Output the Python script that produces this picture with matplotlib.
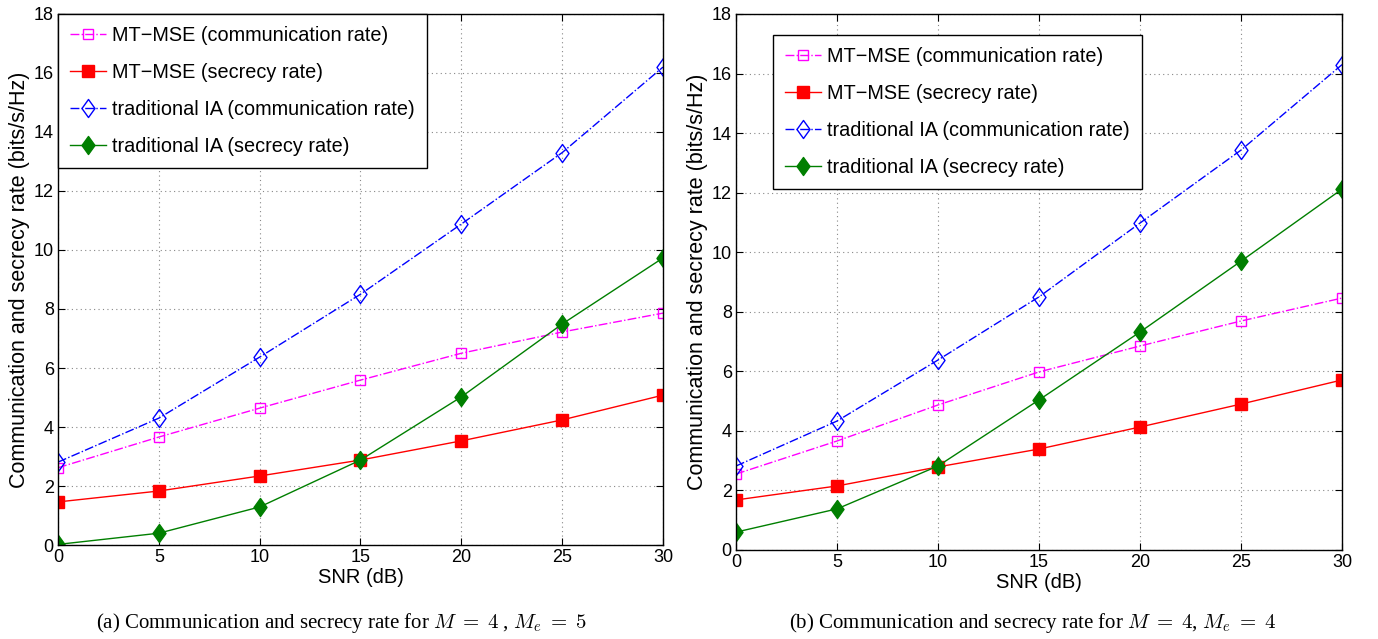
import matplotlib
matplotlib.use("Agg")
import matplotlib.pyplot as plt
from matplotlib.path import Path

snr = [0, 5, 10, 15, 20, 25, 30]

# Panel (a): M=4, Me=5
a_mtmse_comm = [2.62, 3.66, 4.64, 5.59, 6.50, 7.22, 7.86]
a_mtmse_sec = [1.46, 1.83, 2.34, 2.88, 3.53, 4.24, 5.08]
a_ia_comm = [2.81, 4.30, 6.37, 8.50, 10.88, 13.30, 16.20]
a_ia_sec = [0.02, 0.40, 1.29, 2.88, 5.02, 7.49, 9.73]

# Panel (b): M=4, Me=4
b_mtmse_comm = [2.55, 3.66, 4.87, 5.98, 6.85, 7.69, 8.46]
b_mtmse_sec = [1.68, 2.15, 2.79, 3.39, 4.13, 4.90, 5.71]
b_ia_comm = [2.82, 4.33, 6.38, 8.50, 10.98, 13.43, 16.30]
b_ia_sec = [0.60, 1.38, 2.82, 5.04, 7.32, 9.70, 12.12]

labels = ["MT\u2212MSE (communication rate)", "MT\u2212MSE (secrecy rate)",
          "traditional IA (communication rate)", "traditional IA (secrecy rate)"]
xticks = [0, 5, 10, 15, 20, 25, 30]
yticks = [0, 2, 4, 6, 8, 10, 12, 14, 16, 18]
captions = [r"(a) Communication and secrecy rate for $M\;=\;4$ , $M_e\;=\;5$",
            r"(b) Communication and secrecy rate for $M\;=\;4$, $M_e\;=\;4$"]

plt.rcParams['font.family'] = ['Liberation Sans', 'DejaVu Sans']
plt.rcParams['mathtext.fontset'] = 'cm'

diamond = Path([(0, 1), (0.72, 0), (0, -1), (-0.72, 0), (0, 1)],
               [Path.MOVETO, Path.LINETO, Path.LINETO, Path.LINETO, Path.CLOSEPOLY])

fig = plt.figure(figsize=(13.78, 6.39), dpi=100)
axes = [fig.add_axes([0.0421, 0.1471, 0.4390, 0.8310]),
        fig.add_axes([0.5341, 0.1393, 0.4398, 0.8388])]
data = [(a_mtmse_comm, a_mtmse_sec, a_ia_comm, a_ia_sec),
        (b_mtmse_comm, b_mtmse_sec, b_ia_comm, b_ia_sec)]
legend_anchor = [(0.0, 1.0), (0.061, 0.961)]
cap_x = [0.2475, 0.749]

for ax, d, anc, cx, cap in zip(axes, data, legend_anchor, cap_x, captions):
    mc, ms, ic, isec = d
    ax.plot(snr, mc, color='#ff00ff', linestyle='-.', lw=1.0, marker='s', ms=7.5,
            mfc='none', mec='#ff00ff', mew=1.0, label=labels[0])
    ax.plot(snr, ms, color='#ff0000', linestyle='-', lw=1.0, marker='s', ms=8,
            mfc='#ff0000', mec='#ff0000', label=labels[1])
    ax.plot(snr, ic, color='#0000ff', linestyle='-.', lw=1.0, marker=diamond, ms=13,
            mfc='none', mec='#0000ff', mew=1.0, label=labels[2])
    ax.plot(snr, isec, color='#007f00', linestyle='-', lw=1.0, marker=diamond, ms=13,
            mfc='#007f00', mec='#007f00', label=labels[3])
    ax.set_xlim(0, 30)
    ax.set_ylim(0, 18)
    ax.set_xticks(xticks)
    ax.set_yticks(yticks)
    ax.grid(True, linestyle=(0, (1, 3)), color='#888888', lw=0.8)
    ax.tick_params(direction='in', top=True, right=True, labelsize=13, length=5, pad=3)
    for s in ax.spines.values():
        s.set_linewidth(1.0)
    ax.set_xlabel("SNR (dB)", fontsize=14.5, labelpad=1)
    ax.set_ylabel("Communication and secrecy rate (bits/s/Hz)", fontsize=15.5, labelpad=3)
    leg = ax.legend(loc='upper left', bbox_to_anchor=anc, fontsize=14.3, frameon=True,
                    fancybox=False, edgecolor='black', framealpha=1, handlelength=1.8,
                    labelspacing=0.9, borderpad=0.62, handletextpad=0.3,
                    borderaxespad=0.0)
    leg.get_frame().set_linewidth(1.0)
    fig.text(cx, 0.025, cap, ha='center', va='center', fontsize=15,
             family='Liberation Serif')

fig.savefig("out.png", dpi=100)
